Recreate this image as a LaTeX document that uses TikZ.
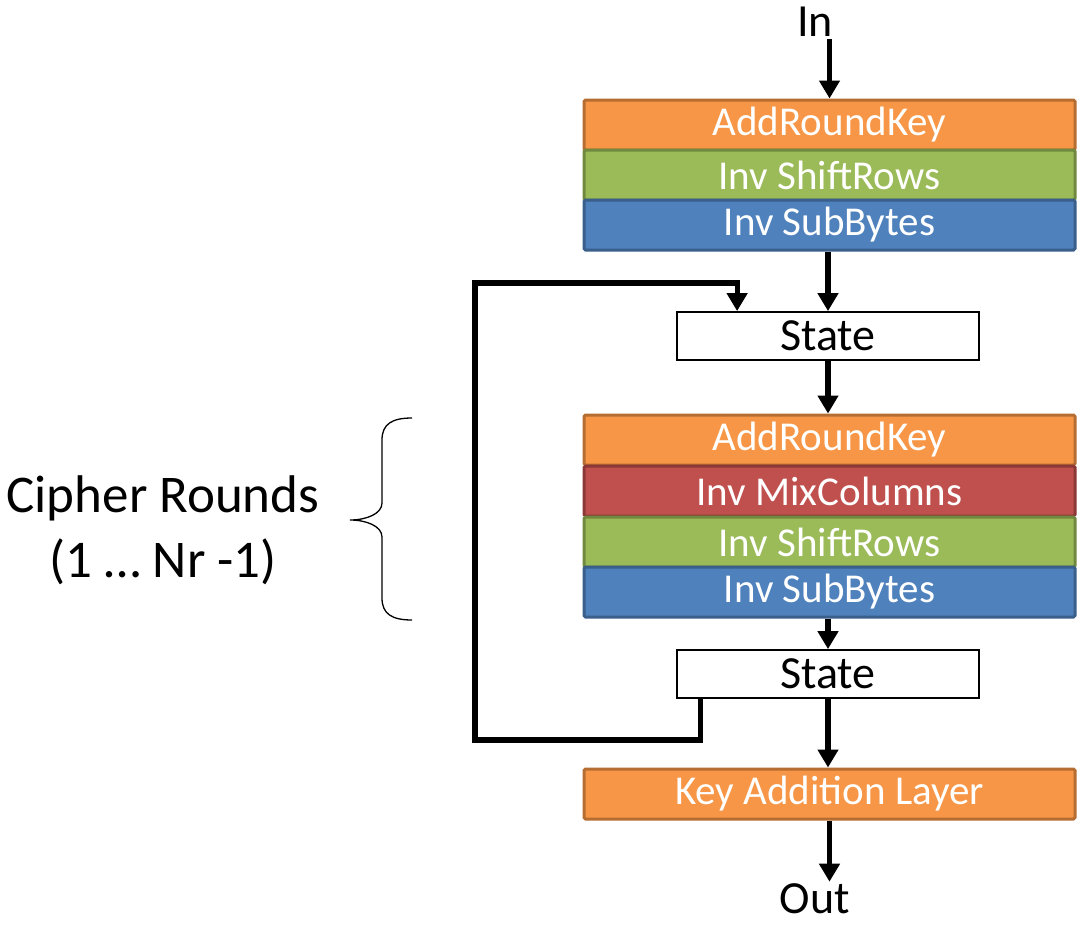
\documentclass[tikz,border=0pt]{standalone}
\usepackage{fontspec}
\setmainfont{Carlito}
\usepackage{tikz}
\usetikzlibrary{arrows.meta, positioning, calc}

\definecolor{orangefill}{HTML}{F79646}
\definecolor{orangeline}{HTML}{B66D31}
\definecolor{greenfill}{HTML}{9BBB59}
\definecolor{greenline}{HTML}{71893F}
\definecolor{bluefill}{HTML}{4F81BD}
\definecolor{blueline}{HTML}{3A5F8B}
\definecolor{redfill}{HTML}{C0504D}
\definecolor{redline}{HTML}{8C3836}

\begin{document}
\begin{tikzpicture}[x=1pt, y=-1pt,
  layer/.style={draw, line width=3pt, rounded corners=1.5pt, minimum width=491pt,
    minimum height=50pt, inner sep=0pt, text=white, font=\fontsize{41}{49}\selectfont},
  addkey/.style={layer, fill=orangefill, draw=orangeline},
  shiftrows/.style={layer, fill=greenfill, draw=greenline},
  subbytes/.style={layer, fill=bluefill, draw=blueline},
  mixcols/.style={layer, fill=redfill, draw=redline},
  statebox/.style={draw, line width=1.8pt, fill=white, minimum width=302pt,
    minimum height=48pt, inner sep=0pt, font=\fontsize{46}{55}\selectfont},
  label/.style={inner sep=2pt, font=\fontsize{46}{55}\selectfont},
  flow/.style={line width=5.2pt, -{Triangle[length=18pt, width=20pt]}}]
\useasboundingbox (0,0) rectangle (1081,924);

% Input
\node[label] (in) at (815,22) {In};

% First round
\node[addkey] (ark1) at (829.5,125) {AddRoundKey};
\node[shiftrows] (isr1) at (829.5,175) {Inv ShiftRows};
\node[subbytes] (isb1) at (829.5,225) {Inv SubBytes};

\node[statebox] (state1) at (828,336) {State};

% Cipher rounds
\node[addkey] (ark2) at (829.5,440) {AddRoundKey};
\node[mixcols] (imc2) at (829.5,491) {Inv MixColumns};
\node[shiftrows] (isr2) at (829.5,542) {Inv ShiftRows};
\node[subbytes] (isb2) at (829.5,592) {Inv SubBytes};

\node[statebox] (state2) at (828,674) {State};

% Last key addition
\node[addkey] (kal) at (829.5,794) {Key Addition Layer};
\node[label] (out) at (815,899) {Out};

% Brace and label
\draw[line width=1.3pt] (412,418) .. controls (392,418) and (382,424) .. (382,440)
  -- (382,503) .. controls (382,514) and (366,520) .. (350,520)
  .. controls (366,520) and (382,526) .. (382,537)
  -- (382,598) .. controls (382,614) and (392,620) .. (412,620);
\node[align=center, font=\fontsize{53}{65}\selectfont] (rounds) at (163,530)
  {Cipher Rounds\\(1 … Nr -1)};

% Arrows
\draw[flow] (in.south -| ark1.north) -- (ark1.north);
\draw[flow] (isb1.south -| state1.north) -- (state1.north);
\draw[flow] (state1.south) -- (state1.south |- ark2.north);
\draw[flow] (isb2.south -| state2.north) -- (state2.north);
\draw[flow] (state2.south) -- (state2.south |- kal.north);
\draw[flow] (kal.south) -- (kal.south |- out.north);

% Feedback loop
\coordinate (loopbl) at (475,740);
\coordinate (looptl) at (475,283);
\draw[flow] ([xshift=24pt]state2.south west) |- (loopbl) -- (looptl)
  -| ([xshift=61pt]state1.north west);
\end{tikzpicture}
\end{document}
